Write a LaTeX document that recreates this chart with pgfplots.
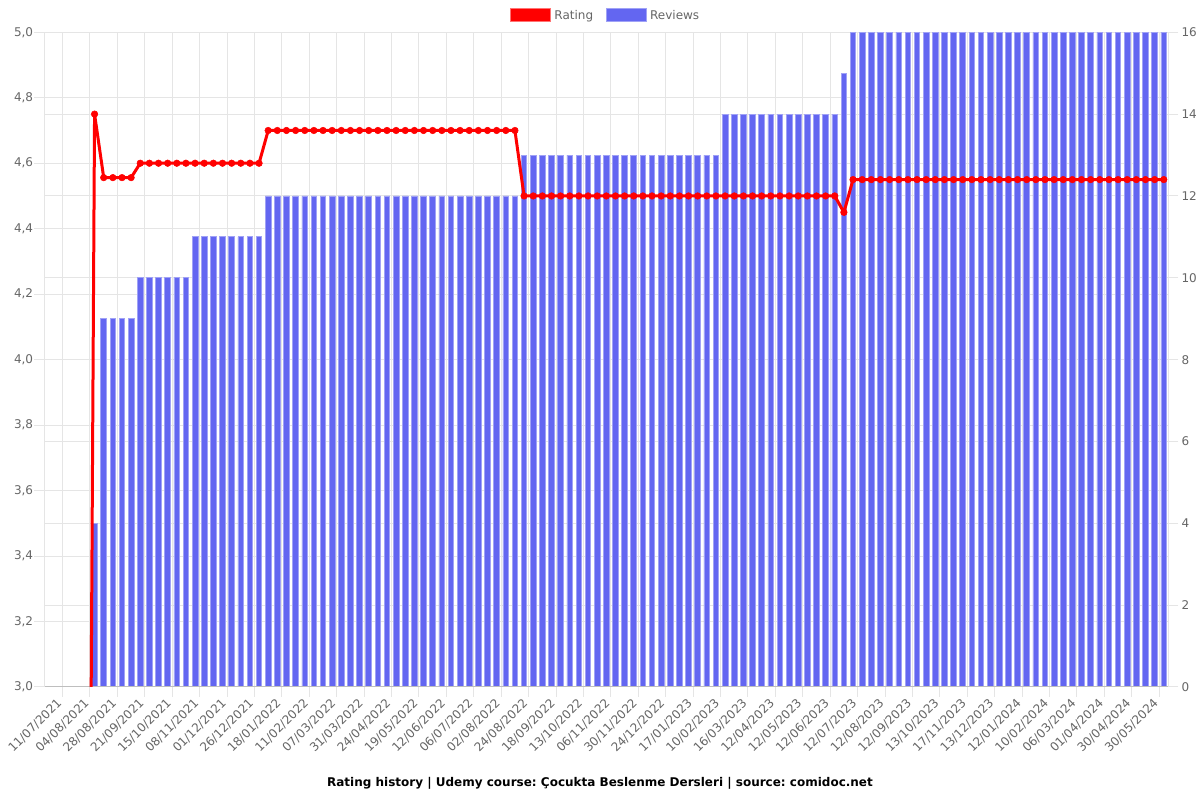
\documentclass[border=0pt]{standalone}
\usepackage{pgfplots}
\usepackage{pgfplotstable}
\usepackage{fontspec}
\setmainfont{DejaVu Sans}
\pgfplotsset{compat=1.18}
\frenchspacing
\definecolor{barblue}{RGB}{99,102,241}
\definecolor{barborder}{RGB}{160,162,246}
\definecolor{labelgray}{RGB}{102,102,102}
\definecolor{gridgray}{RGB}{229,229,229}
\definecolor{zerogray}{RGB}{190,190,190}
\pgfplotstableread{
x rev rat
4.5 0 0
5.5 4 4.75
6.5 9 4.556
7.5 9 4.556
8.5 9 4.556
9.5 9 4.556
10.5 10 4.6
11.5 10 4.6
12.5 10 4.6
13.5 10 4.6
14.5 10 4.6
15.5 10 4.6
16.5 11 4.6
17.5 11 4.6
18.5 11 4.6
19.5 11 4.6
20.5 11 4.6
21.5 11 4.6
22.5 11 4.6
23.5 11 4.6
24.5 12 4.7
25.5 12 4.7
26.5 12 4.7
27.5 12 4.7
28.5 12 4.7
29.5 12 4.7
30.5 12 4.7
31.5 12 4.7
32.5 12 4.7
33.5 12 4.7
34.5 12 4.7
35.5 12 4.7
36.5 12 4.7
37.5 12 4.7
38.5 12 4.7
39.5 12 4.7
40.5 12 4.7
41.5 12 4.7
42.5 12 4.7
43.5 12 4.7
44.5 12 4.7
45.5 12 4.7
46.5 12 4.7
47.5 12 4.7
48.5 12 4.7
49.5 12 4.7
50.5 12 4.7
51.5 12 4.7
52.5 13 4.5
53.5 13 4.5
54.5 13 4.5
55.5 13 4.5
56.5 13 4.5
57.5 13 4.5
58.5 13 4.5
59.5 13 4.5
60.5 13 4.5
61.5 13 4.5
62.5 13 4.5
63.5 13 4.5
64.5 13 4.5
65.5 13 4.5
66.5 13 4.5
67.5 13 4.5
68.5 13 4.5
69.5 13 4.5
70.5 13 4.5
71.5 13 4.5
72.5 13 4.5
73.5 13 4.5
74.5 14 4.5
75.5 14 4.5
76.5 14 4.5
77.5 14 4.5
78.5 14 4.5
79.5 14 4.5
80.5 14 4.5
81.5 14 4.5
82.5 14 4.5
83.5 14 4.5
84.5 14 4.5
85.5 14 4.5
86.5 14 4.5
87.5 15 4.45
88.5 16 4.55
89.5 16 4.55
90.5 16 4.55
91.5 16 4.55
92.5 16 4.55
93.5 16 4.55
94.5 16 4.55
95.5 16 4.55
96.5 16 4.55
97.5 16 4.55
98.5 16 4.55
99.5 16 4.55
100.5 16 4.55
101.5 16 4.55
102.5 16 4.55
103.5 16 4.55
104.5 16 4.55
105.5 16 4.55
106.5 16 4.55
107.5 16 4.55
108.5 16 4.55
109.5 16 4.55
110.5 16 4.55
111.5 16 4.55
112.5 16 4.55
113.5 16 4.55
114.5 16 4.55
115.5 16 4.55
116.5 16 4.55
117.5 16 4.55
118.5 16 4.55
119.5 16 4.55
120.5 16 4.55
121.5 16 4.55
122.5 16 4.55
}\datatable
\begin{document}
\begin{tikzpicture}
\path[use as bounding box] (0,0) rectangle (1200bp,800bp);
\pgfplotsset{
  common/.style={
    at={(44.3bp,113bp)}, anchor=south west, scale only axis,
    width=1124bp, height=654.7bp,
    xmin=0, xmax=123,
    tick align=outside, major tick length=10bp,
    tick style={color=gridgray, line width=1bp},
    tick label style={font=\fontsize{12bp}{14bp}\selectfont, text=labelgray},
    axis line style={color=gridgray, line width=1bp},
  }
}
\begin{axis}[common,
  ymin=0, ymax=16,
  xtick pos=left, ytick pos=right, yticklabel pos=right,
  xtick={2,5,...,122},
  xticklabels={11/07/2021,04/08/2021,28/08/2021,21/09/2021,15/10/2021,08/11/2021,01/12/2021,26/12/2021,18/01/2022,11/02/2022,07/03/2022,31/03/2022,24/04/2022,19/05/2022,12/06/2022,06/07/2022,02/08/2022,24/08/2022,18/09/2022,13/10/2022,06/11/2022,30/11/2022,24/12/2022,17/01/2023,10/02/2023,16/03/2023,12/04/2023,12/05/2023,12/06/2023,12/07/2023,12/08/2023,12/09/2023,13/10/2023,17/11/2023,13/12/2023,12/01/2024,10/02/2024,06/03/2024,01/04/2024,30/04/2024,30/05/2024},
  xticklabel style={inner sep=0pt, yshift=-4bp, xshift=-3bp, rotate=45, anchor=east},
  ytick={0,2,4,6,8,10,12,14,16},
  yticklabels={0,2,4,6,8,10,12,14,16},
  yticklabel style={inner sep=0pt, xshift=3bp, anchor=west},
  extra y ticks={1.6,3.2,4.8,6.4,8,9.6,11.2,12.8,14.4},
  extra y tick labels={},
  extra y tick style={major tick length=0pt},
  grid=major, major grid style={color=gridgray, line width=1bp},
  ybar, bar width=0.62,
]
\addplot[ybar, fill=barblue, draw=barborder, line width=0.8bp] table[x=x, y=rev] {\datatable};
\draw[color=zerogray, line width=1bp] (rel axis cs:0,0) -- (rel axis cs:1,0);
\end{axis}
\begin{axis}[common,
  ymin=3, ymax=5,
  axis x line=none, axis y line*=left,
  ytick={3,3.2,3.4,3.6,3.8,4,4.2,4.4,4.6,4.8,5},
  yticklabels={{3,0},{3,2},{3,4},{3,6},{3,8},{4,0},{4,2},{4,4},{4,6},{4,8},{5,0}},
  yticklabel style={inner sep=0pt, xshift=-1bp, anchor=east},
  legend style={draw=none, fill=none, inner sep=0pt, at={(rel axis cs:0.5,1)}, anchor=center, yshift=16.8bp,
    font=\fontsize{12bp}{14bp}\selectfont, text=labelgray, legend columns=-1,
    /tikz/every even column/.append style={column sep=10bp},
    nodes={inner sep=3bp}},
]
\addlegendimage{legend image code/.code={\draw[fill=red, draw=red!55, line width=1bp] (0bp,-6.5bp) rectangle (40bp,6.5bp);}}
\addlegendentry{Rating}
\addlegendimage{legend image code/.code={\draw[fill=barblue, draw=barborder, line width=1bp] (0bp,-6.5bp) rectangle (40bp,6.5bp);}}
\addlegendentry{Reviews}
\addplot[color=red, line width=3bp, mark=*, mark size=3.3bp, mark options={fill=red, draw=red, line width=0.5bp}, forget plot] table[x=x, y=rat] {\datatable};
\end{axis}
\node[font=\bfseries\fontsize{12bp}{14bp}\selectfont] at (600bp,17bp) {Rating history | Udemy course: Çocukta Beslenme Dersleri | source: comidoc.net};
\end{tikzpicture}
\end{document}
